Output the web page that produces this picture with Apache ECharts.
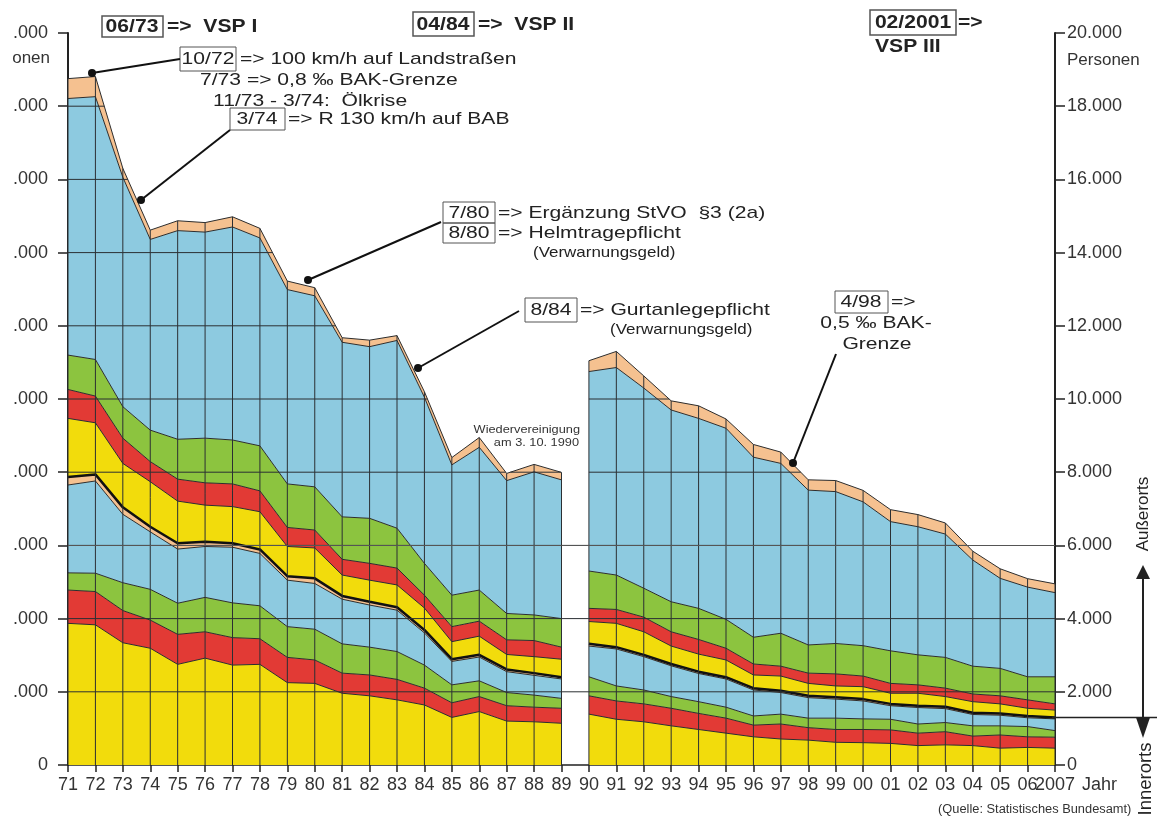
<!DOCTYPE html>
<html>
<head>
<meta charset="utf-8">
<script src="https://cdn.jsdelivr.net/npm/echarts@6/dist/echarts.min.js"></script>
<style>
  html, body { margin: 0; padding: 0; background: #fff; }
  #chart { width: 1157px; height: 816px; }
</style>
</head>
<body>
<div id="chart"></div>
<script>
// Jahre (71-89 alte Bundesländer, 90-2007 Deutschland)
const years = ['71','72','73','74','75','76','77','78','79','80','81','82','83','84','85','86','87','88','89',
  '90','91','92','93','94','95','96','97','98','99','00','01','02','03','04','05','06','2007'];

// Innerorts (von unten)
const innerYellow = [3870,3830,3340,3190,2750,2920,2730,2750,2250,2230,1960,1890,1780,1640,1300,1460,1200,1180,1140,
  1390,1250,1180,1070,970,870,770,710,680,620,610,590,530,550,530,460,480,460];
const innerRed = [910,910,880,770,820,720,750,700,690,640,550,570,560,460,400,410,420,400,410,
  500,500,490,480,440,410,320,410,340,350,360,370,340,360,260,360,290,300];
const innerGreen = [470,500,760,840,850,940,950,900,840,840,800,760,760,630,490,430,360,330,270,
  520,410,380,320,320,300,250,270,260,310,290,290,250,250,280,250,280,180];
const innerBlue = [2400,2520,1870,1570,1480,1390,1520,1430,1270,1250,1220,1150,1130,880,640,650,570,540,530,
  840,1010,910,840,770,770,710,590,560,520,490,370,450,380,310,290,240,320];
const innerTan = [220,180,190,140,160,130,110,110,110,140,90,90,80,80,60,60,60,60,50,
  60,50,50,50,50,50,50,50,50,50,50,50,50,50,50,50,50,40];

// Außerorts
const ausYellow = [1600,1410,1200,1230,1150,1000,1000,1030,810,830,570,590,610,600,480,510,410,450,490,
  610,650,630,490,480,470,360,400,340,310,340,290,340,280,300,260,210,200];
const ausRed = [790,730,690,550,600,610,620,570,520,490,430,460,460,350,410,410,400,440,330,
  360,380,400,390,400,320,300,270,280,330,290,270,230,230,210,220,230,170];
const ausGreen = [940,1000,860,860,1090,1220,1200,1230,1190,1180,1160,1230,1090,870,860,850,720,700,780,
  1020,940,790,820,850,790,730,900,770,830,830,890,820,840,760,750,630,740];
const ausBlue = [7010,7180,6270,5210,5700,5630,5820,5680,5310,5220,4770,4690,5130,4540,3560,3900,3630,3910,3790,
  5450,5670,5470,5240,5190,5220,4920,4640,4230,4150,3930,3530,3500,3370,2900,2460,2450,2300];
const ausTan = [543,551,242,254,270,260,278,262,232,221,124,178,132,149,200,268,197,203,205,
  296,440,331,249,344,254,348,309,282,302,313,327,332,303,242,261,231,239];

const yTicks = [0,2000,4000,6000,8000,10000,12000,14000,16000,18000,20000];

const gapIndex = 18; // zwischen 89 und 90 keine Fläche

const layers = [
  { data: innerYellow, color: '#f2dc0c' },
  { data: innerRed, color: '#e23a35' },
  { data: innerGreen, color: '#8cc43f' },
  { data: innerBlue, color: '#8dcae0' },
  { data: innerTan, color: '#f5c190', line: { color: '#111', width: 2.5 } },
  { data: ausYellow, color: '#f2dc0c' },
  { data: ausRed, color: '#e23a35' },
  { data: ausGreen, color: '#8cc43f' },
  { data: ausBlue, color: '#8dcae0' },
  { data: ausTan, color: '#f5c190' }
];

const totals = years.map((y, i) => layers.reduce((s, l) => s + l.data[i], 0));
const innerTotalLast = innerYellow[36] + innerRed[36] + innerGreen[36] + innerBlue[36] + innerTan[36];

const gridColor = '#2b2f33';
const font = '"Liberation Sans", Arial, sans-serif';

let series = [];
['west', 'ost'].forEach((part, p) => {
  layers.forEach((l, k) => {
    series.push({
      type: 'line',
      stack: part,
      data: l.data.map((v, i) => (p === 0 ? i <= gapIndex : i > gapIndex) ? v : null),
      symbol: 'none',
      smooth: false,
      z: 2,
      lineStyle: l.line || { color: '#2d2d2d', width: 1 },
      areaStyle: { color: l.color, opacity: 1 }
    });
  });
});

// Gitterlinien nur innerhalb der Flächen
series.push({
  type: 'custom',
  z: 4,
  silent: true,
  data: years.map((y, i) => [i, totals[i]]),
  encode: { x: 0, y: 1 },
  renderItem: function (params, api) {
    const i = params.dataIndex;
    const a = totals[i];
    const p0 = api.coord([i, 0]);
    const p1 = api.coord([i, a]);
    const children = [{
      type: 'line',
      shape: { x1: p0[0], y1: p0[1], x2: p1[0], y2: p1[1] },
      style: { stroke: gridColor, lineWidth: 1 }
    }];
    if (i < totals.length - 1) {
      const b = totals[i + 1];
      const xa = p0[0];
      const xb = api.coord([i + 1, 0])[0];
      yTicks.slice(1, -1).forEach(L => {
        let t0, t1;
        if (i === gapIndex) {
          if (Math.min(a, b) >= L) { t0 = 0; t1 = 1; } else return;
        } else if (a >= L && b >= L) { t0 = 0; t1 = 1; }
        else if (a >= L) { t0 = 0; t1 = (a - L) / (a - b); }
        else if (b >= L) { t0 = (L - a) / (b - a); t1 = 1; }
        else return;
        const y = api.coord([i, L])[1];
        children.push({
          type: 'line',
          shape: { x1: xa + (xb - xa) * t0, y1: y, x2: xa + (xb - xa) * t1, y2: y },
          style: { stroke: gridColor, lineWidth: 1 }
        });
      });
    }
    return { type: 'group', children: children };
  },
  markLine: {
    silent: true,
    symbol: 'none',
    label: { show: false },
    lineStyle: { color: '#555', width: 1, type: 'solid' },
    data: [{ yAxis: 6000 }]
  }
});

// Text im Original ist breit gezogen -> scaleX
function txt(x, y, text, size, opts) {
  opts = opts || {};
  return Object.assign({
    type: 'text', x: x, y: y, z: 20, scaleX: opts.sx || 1,
    style: Object.assign({
      text: text, font: (opts.bold ? 'bold ' : '') + size + 'px ' + font,
      fill: '#222', align: 'left', verticalAlign: 'middle'
    }, opts.style)
  }, opts.el);
}
function box(x, y, w, h, width) {
  return { type: 'rect', z: 19, shape: { x: x, y: y, width: w, height: h },
    style: { fill: null, stroke: '#555', lineWidth: width || 1 } };
}
function lead(x1, y1, x2, y2) {
  return [
    { type: 'line', z: 19, shape: { x1: x1, y1: y1, x2: x2, y2: y2 }, style: { stroke: '#111', lineWidth: 2 } },
    { type: 'circle', z: 19, shape: { cx: x2, cy: y2, r: 4 }, style: { fill: '#111' } }
  ];
}

const option = {
  animation: false,
  backgroundColor: '#fff',
  grid: { left: 68, right: 102, top: 33, bottom: 51 },
  xAxis: {
    type: 'category',
    data: years,
    boundaryGap: false,
    axisLine: { lineStyle: { color: '#222', width: 1.5 } },
    axisTick: { length: 7, lineStyle: { color: '#222', width: 1.5 }, interval: 0 },
    axisLabel: { interval: 0, margin: 11, fontSize: 18, color: '#333', fontFamily: font },
    splitLine: { show: false }
  },
  yAxis: [{
    type: 'value', min: 0, max: 20000, interval: 2000, position: 'left',
    axisLine: { show: true, lineStyle: { color: '#222', width: 2 } },
    axisTick: { show: true, length: 10, lineStyle: { color: '#222', width: 1.5 } },
    axisLabel: { margin: 20, fontSize: 18, color: '#333', fontFamily: font,
      formatter: v => v === 0 ? '0' : '.000' },
    splitLine: { show: false }
  }, {
    type: 'value', min: 0, max: 20000, interval: 2000, position: 'right',
    axisLine: { show: true, lineStyle: { color: '#222', width: 2 } },
    axisTick: { show: true, length: 10, lineStyle: { color: '#222', width: 1.5 } },
    axisLabel: { margin: 12, fontSize: 18, color: '#333', fontFamily: font,
      formatter: v => v === 0 ? '0' : (v / 1000) + '.000' },
    splitLine: { show: false }
  }],
  series: series
};

const chart = echarts.init(document.getElementById('chart'), null, { renderer: 'canvas' });
chart.setOption(option);

const yInner = chart.convertToPixel({ yAxisIndex: 0 }, innerTotalLast);
const fs = 17, sx = 1.24;       // Anmerkungen
const fb = 18.5, sxb = 1.14;    // VSP fett
const c = { align: 'center' };

const g = [
  // VSP I / II / III
  box(102, 16, 61, 21, 1.5), txt(132, 27, '06/73', fb, { bold: true, sx: sxb, style: c }),
  txt(167, 27, '=>  VSP I', fb, { bold: true, sx: sxb }),
  box(413, 12, 61, 24, 1.5), txt(443, 25, '04/84', fb, { bold: true, sx: sxb, style: c }),
  txt(478, 25, '=>  VSP II', fb, { bold: true, sx: sxb }),
  box(870, 10, 86, 25, 1.5), txt(913, 23, '02/2001', fb, { bold: true, sx: sxb, style: c }),
  txt(958, 23, '=>', fb, { bold: true, sx: sxb }),
  txt(875, 47, 'VSP III', fb, { bold: true, sx: sxb }),

  // Maßnahmen 1972-1974
  box(180, 47, 56, 24), txt(208, 59, '10/72', fs, { sx: sx, style: c }),
  txt(240, 59, '=> 100 km/h auf Landstraßen', fs, { sx: sx }),
  txt(200, 80, '7/73 => 0,8 ‰ BAK-Grenze', fs, { sx: sx }),
  txt(213, 101, '11/73 - 3/74:  Ölkrise', fs, { sx: sx }),
  box(230, 108, 55, 22), txt(257, 119, '3/74', fs, { sx: sx, style: c }),
  txt(288, 119, '=> R 130 km/h auf BAB', fs, { sx: sx }),
  ...lead(180, 59, 92, 73),
  ...lead(230, 130, 141, 200),

  // 1980
  box(443, 202, 52, 21), txt(469, 213, '7/80', fs, { sx: sx, style: c }),
  txt(498, 213, '=> Ergänzung StVO  §3 (2a)', fs, { sx: sx }),
  box(443, 223, 52, 20), txt(469, 233, '8/80', fs, { sx: sx, style: c }),
  txt(498, 233, '=> Helmtragepflicht', fs, { sx: sx }),
  txt(533, 253, '(Verwarnungsgeld)', 15, { sx: 1.13 }),
  ...lead(441, 222, 308, 280),

  // 1984
  box(525, 298, 52, 24), txt(551, 310, '8/84', fs, { sx: sx, style: c }),
  txt(580, 310, '=> Gurtanlegepflicht', fs, { sx: sx }),
  txt(610, 330, '(Verwarnungsgeld)', 15, { sx: 1.13 }),
  ...lead(519, 311, 418, 368),

  // 1998
  box(835, 291, 53, 22), txt(861, 302, '4/98', fs, { sx: sx, style: c }),
  txt(891, 302, '=>', fs, { sx: sx }),
  txt(876, 323, '0,5 ‰ BAK-', fs, { sx: sx, style: c }),
  txt(877, 344, 'Grenze', fs, { sx: sx, style: c }),
  ...lead(836, 354, 793, 463),

  // Wiedervereinigung
  txt(580, 430, 'Wiedervereinigung', 11, { sx: 1.16, style: { align: 'right', fill: '#333' } }),
  txt(579, 443, 'am 3. 10. 1990', 11, { sx: 1.16, style: { align: 'right', fill: '#333' } }),

  // Achsentitel
  txt(50, 58, 'onen', 17, { style: { align: 'right', fill: '#333' } }),
  txt(1067, 60, 'Personen', 17, { style: { fill: '#333' } }),
  txt(1082, 785, 'Jahr', 18, { style: { fill: '#333' } }),
  txt(938, 810, '(Quelle: Statistisches Bundesamt)', 12, { sx: 1.07, style: { fill: '#333' } }),

  // Innerorts / Außerorts
  { type: 'line', z: 19, shape: { x1: 1052, y1: yInner, x2: 1157, y2: yInner }, style: { stroke: '#222', lineWidth: 1.5 } },
  { type: 'line', z: 19, shape: { x1: 1143, y1: 574, x2: 1143, y2: 722 }, style: { stroke: '#222', lineWidth: 2 } },
  { type: 'polygon', z: 19, shape: { points: [[1143, 565], [1136, 579], [1150, 579]] }, style: { fill: '#222' } },
  { type: 'polygon', z: 19, shape: { points: [[1143, 738], [1136, yInner], [1150, yInner]] }, style: { fill: '#222' } },
  txt(1143, 514, 'Außerorts', 17, { style: c, el: { rotation: Math.PI / 2 } }),
  txt(1146, 779, 'Innerorts', 18.5, { style: c, el: { rotation: Math.PI / 2 } })
];

chart.setOption({ graphic: { elements: g } });
</script>
</body>
</html>
